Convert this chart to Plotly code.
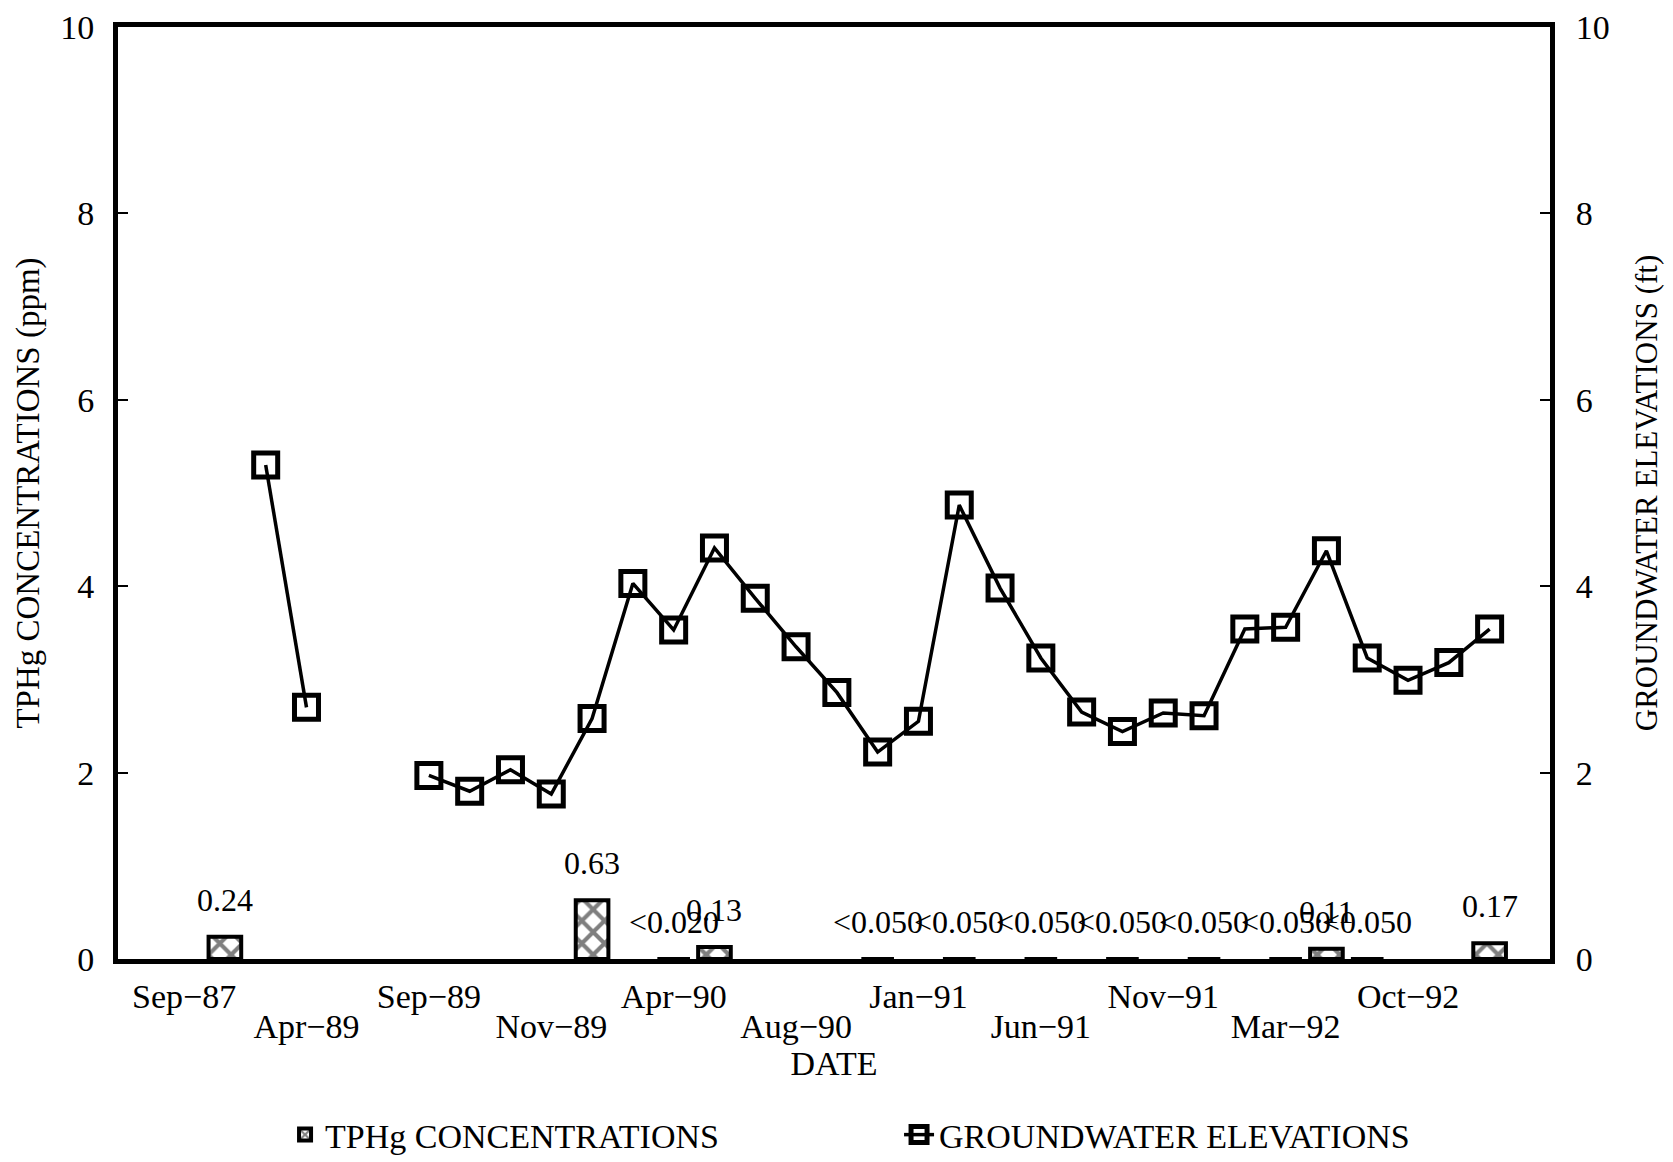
import plotly.graph_objects as go

# ---- data (x = sampling-event index along the DATE axis) ----
gw_index = list(range(2, 33))
gw_elev = [5.30, 2.70, None, None, 1.97, 1.80, 2.03, 1.77, 2.58, 4.03,
           3.53, 4.41, 3.87, 3.35, 2.86, 2.22, 2.55, 4.87, 3.98, 3.23,
           2.65, 2.44, 2.64, 2.61, 3.54, 3.56, 4.38, 3.23, 2.99, 3.18, 3.54]

tphg_index = [1, 10, 12, 13, 17, 19, 21, 23, 25, 27, 28, 29, 32]
tphg_value = [0.24, 0.63, 0, 0.13, 0, 0, 0, 0, 0, 0, 0.11, 0, 0.17]
tphg_label = ["0.24", "0.63", "<0.020", "0.13", "<0.050", "<0.050", "<0.050",
              "<0.050", "<0.050", "<0.050", "0.11", "<0.050", "0.17"]

row1_ticks = [0, 6, 12, 18, 24, 30]
row1_text = ["Sep\u221287", "Sep\u221289", "Apr\u221290", "Jan\u221291", "Nov\u221291", "Oct\u221292"]
row2_ticks = [3, 9, 15, 21, 27]
row2_text = ["Apr\u221289", "Nov\u221289", "Aug\u221290", "Jun\u221291", "Mar\u221292"]

y_ticks = [0, 2, 4, 6, 8, 10]

FONT = "Liberation Serif, Times New Roman, serif"
fs = 34
xr = [-1.62, 33.48]

fig = go.Figure()

fig.add_trace(go.Bar(
    x=tphg_index, y=tphg_value, width=0.8, name="TPHg CONCENTRATIONS",
    marker=dict(color="white", line=dict(color="black", width=4),
                pattern=dict(shape="x", fgcolor="black", bgcolor="white",
                             size=16, solidity=0.45)),
    xaxis="x", yaxis="y",
))

fig.add_trace(go.Scatter(
    x=gw_index, y=gw_elev, name="GROUNDWATER ELEVATIONS",
    mode="lines+markers", connectgaps=False,
    line=dict(color="black", width=3.5),
    marker=dict(symbol="square-open", size=24, color="black",
                line=dict(color="black", width=5)),
    xaxis="x2", yaxis="y2",
))

annotations = []
for xi, v, lab in zip(tphg_index, tphg_value, tphg_label):
    annotations.append(dict(x=xi, y=v, xref="x", yref="y", text=lab,
                            showarrow=False, yanchor="middle", yshift=37,
                            font=dict(family=FONT, size=fs - 2, color="black")))

axis_common = dict(showgrid=False, zeroline=False, color="black",
                   ticklabeloverflow="allow",
                   tickfont=dict(family=FONT, size=fs, color="black"))

fig.update_layout(
    width=1673, height=1162,
    margin=dict(l=110, r=131, t=19, b=211),
    paper_bgcolor="white", plot_bgcolor="white",
    font=dict(family=FONT, size=fs, color="black"),
    bargap=0.2,
    xaxis=dict(range=xr, tickmode="array", tickvals=row1_ticks, ticktext=row1_text,
               showline=True, linewidth=5, linecolor="black", mirror=True,
               ticks="", ticklabelstandoff=3, automargin=False, **axis_common),
    xaxis2=dict(range=xr, overlaying="x", side="bottom", anchor="y",
                tickmode="array", tickvals=row2_ticks, ticktext=row2_text,
                showline=False, ticks="", ticklabelstandoff=44, automargin=False,
                title=dict(text="DATE", standoff=4,
                           font=dict(family=FONT, size=fs, color="black")),
                **axis_common),
    yaxis=dict(range=[0, 10], tickmode="array", tickvals=y_ticks,
               showline=True, linewidth=5, linecolor="black",
               ticks="inside", ticklen=10, tickwidth=1.5, tickcolor="black",
               ticklabelstandoff=12, automargin=False,
               title=dict(text="TPHg CONCENTRATIONS (ppm)", standoff=12,
                          font=dict(family=FONT, size=33, color="black")),
               **axis_common),
    yaxis2=dict(range=[0, 10], overlaying="y", side="right", anchor="x",
                tickmode="array", tickvals=y_ticks,
                showline=True, linewidth=5, linecolor="black",
                ticks="inside", ticklen=10, tickwidth=1.5, tickcolor="black",
                ticklabelstandoff=14, automargin=False,
                title=dict(text="GROUNDWATER ELEVATIONS (ft)", standoff=28,
                           font=dict(family=FONT, size=31, color="black")),
                **axis_common),
    legend=dict(orientation="h", xref="container", yref="container",
                x=0.1656, xanchor="left", y=0.0301, yanchor="middle",
                entrywidth=569, entrywidthmode="pixels",
                font=dict(family=FONT, size=fs, color="black"),
                bgcolor="rgba(0,0,0,0)", itemsizing="trace"),
    annotations=annotations,
)

fig.write_html("out.html")
